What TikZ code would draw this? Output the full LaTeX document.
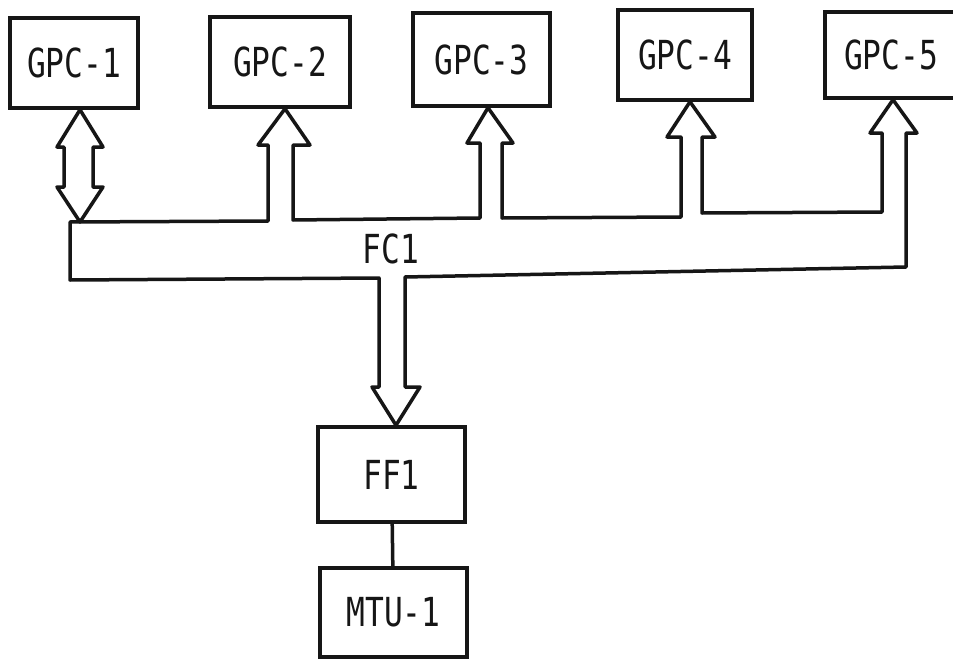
\documentclass[tikz,border=0pt]{standalone}
\usepackage{fontspec}
\newfontfamily\labelfont[FakeStretch=0.78]{DejaVu Sans Mono}
\usepackage{xcolor}
\usepackage{tikz}
\definecolor{ink}{RGB}{22,22,22}
\tikzset{
    unit/.style={draw=ink, line width=3.5pt, fill=white, text=ink, inner sep=0pt,
        font=\labelfont\fontsize{40}{44}\selectfont},
    busline/.style={draw=ink, line width=3.5pt, line join=round},
}

\begin{document}
\begin{tikzpicture}[x=1pt,y=-1pt]
\fill[white] (0,0) rectangle (953,661);
\useasboundingbox (0,0) rectangle (953,661);
\clip (0,0) rectangle (953,661);
% Processors
\foreach \i/\x/\y/\w/\h in {1/74/63/128/90, 2/280/62/140/90, 3/481.5/59.5/137/93, 4/685/55/134/90, 5/891/55/132/86} {
    \node[unit, minimum width=\w pt, minimum height=\h pt] (g\i) at (\x,\y) {GPC-\i};
}
% Frame and tape unit
\node[unit, minimum width=147pt, minimum height=95pt] (ff) at (391.5,474.5) {FF1};
\node[unit, minimum width=147pt, minimum height=89pt] (mtu) at (393.5,612.5) {MTU-1};
\draw[busline] (ff) -- (mtu);
% Two-way link of GPC-1
\draw[busline] (80,0 |- g1.south) -- (103,147) -- (93,147) -- (93,187) -- (103,187)
    -- (80,222) -- (57,187) -- (64,187) -- (64,147) -- (57,147) -- cycle;
% Bus outline
\draw[busline] (70,222) -- (268,221) -- (268,145) -- (258,145) -- (285,0 |- g2.south)
    -- (310,145) -- (293,145) -- (293,220) -- (480,218) -- (480,143) -- (467,143)
    -- (488,0 |- g3.south) -- (513,143) -- (502,143) -- (502,218) -- (681,217)
    -- (681,137) -- (667,137) -- (690,0 |- g4.south) -- (715,137) -- (702,137)
    -- (702,213) -- (882,212) -- (882,133) -- (870,133) -- (893,0 |- g5.south)
    -- (917,133) -- (906,133) -- (906,267) -- (405,277) -- (405,387) -- (420,387)
    -- (396,0 |- ff.north) -- (372,387) -- (379,387) -- (379,278) -- (70,280) -- cycle;
\node[text=ink, font=\labelfont\fontsize{40}{44}\selectfont] (fc) at (391,249) {FC1};
\end{tikzpicture}
\end{document}
